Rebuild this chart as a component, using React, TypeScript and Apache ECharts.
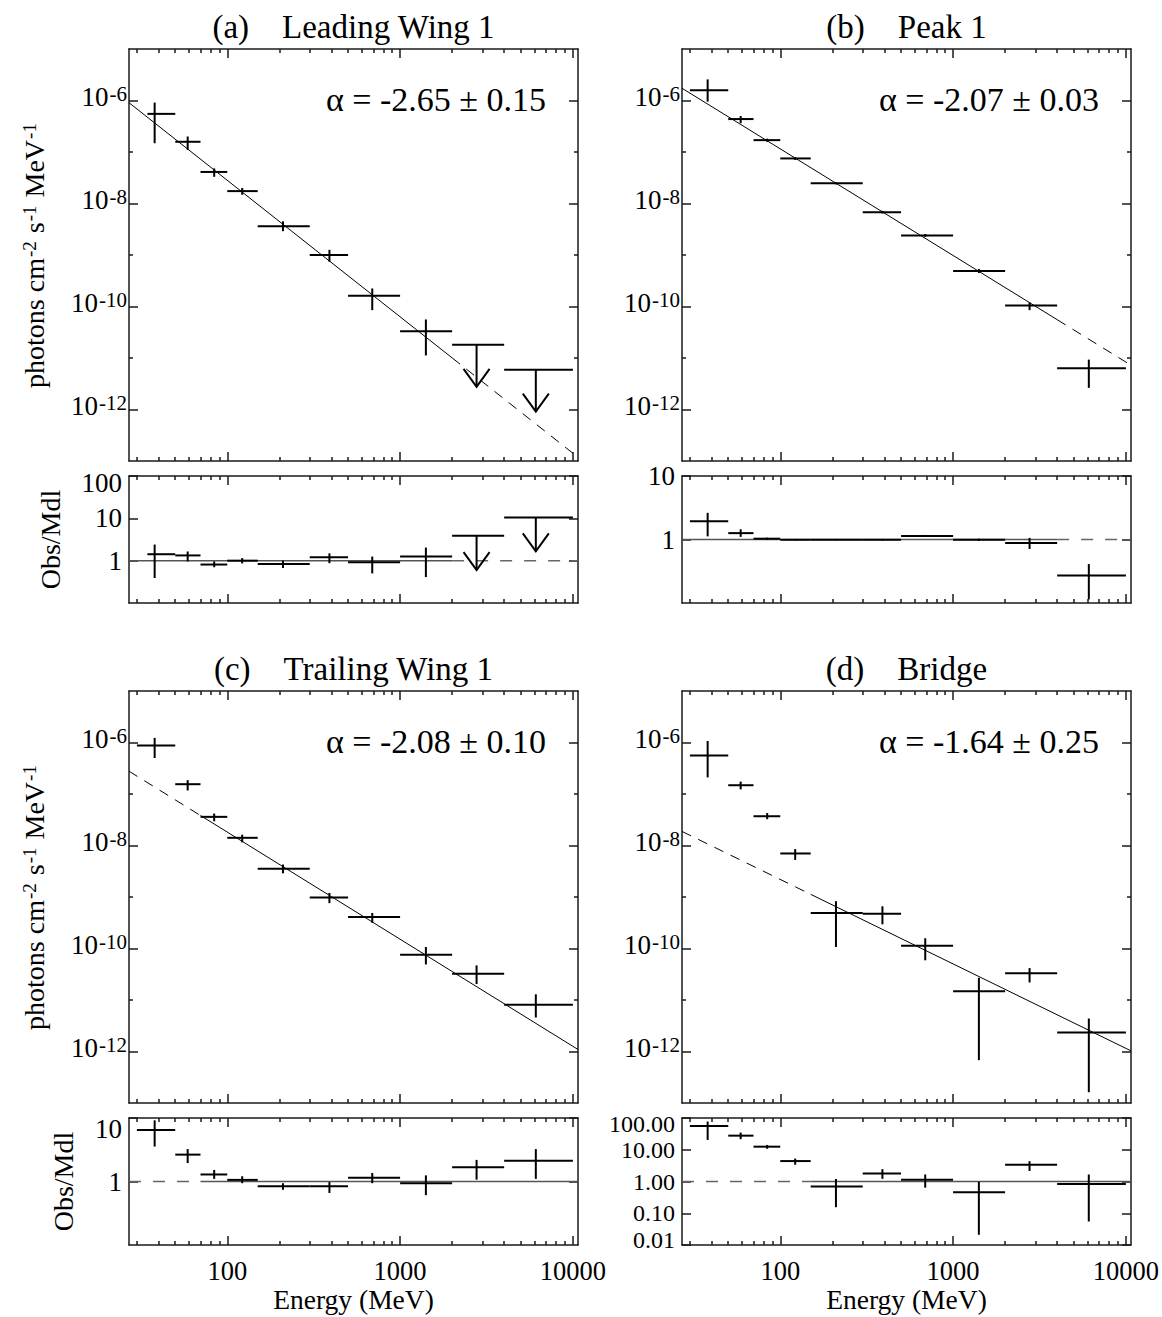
import React, { useEffect, useRef } from "react";
import * as echarts from "echarts";

const FONT = '"Liberation Serif", "Times New Roman", Times, serif';

// ---------- energy bins (MeV) ----------
const binLow = [30, 50, 70, 100, 150, 300, 500, 1000, 2000, 4000];
const binLowA = [34.5, 50, 70, 100, 150, 300, 500, 1000, 2000, 4000];
const binHigh = [50, 70, 100, 150, 300, 500, 1000, 2000, 4000, 10000];
const binCenter = [38, 59, 84, 122, 210, 390, 690, 1410, 2770, 6100];

// ---------- axis ranges and ticks ----------
const energyRange = [27, 10700];
const energyMajorTicks = [100, 1000, 10000];
const energyMinorTicks = [30, 40, 50, 60, 70, 80, 90, 200, 300, 400, 500, 600, 700, 800, 900, 2000, 3000, 4000, 5000, 6000, 7000, 8000, 9000];
const fluxRange = [1e-13, 1e-5];
const fluxMajorTicks = [1e-12, 1e-10, 1e-8, 1e-6];
const fluxMinorTicks = [1e-11, 1e-9, 1e-7];

// ---------- (a) Leading Wing 1 ----------
const fluxA = [5.5e-7, 1.58e-7, 4.1e-8, 1.74e-8, 3.6e-9, 1.0e-9, 1.62e-10, 3.3e-11, 1.8e-11, 5.9e-12];
const fluxLoA = [1.48e-7, 1.1e-7, 3.3e-8, 1.48e-8, 2.9e-9, 7.4e-10, 8.5e-11, 1.12e-11, 2.75e-12, 9.1e-13];
const fluxHiA = [9.1e-7, 2.0e-7, 4.8e-8, 2.0e-8, 4.5e-9, 1.26e-9, 2.24e-10, 5.6e-11, 1.8e-11, 5.9e-12];
const limitA = [0, 0, 0, 0, 0, 0, 0, 0, 1, 1];
const ratioA = [1.42, 1.33, 0.81, 1.0, 0.83, 1.2, 0.92, 1.25, 3.9, 10.4];
const ratioLoA = [0.39, 0.96, 0.7, 0.86, 0.67, 0.87, 0.5, 0.41, 0.6, 1.66];
const ratioHiA = [2.4, 1.65, 0.96, 1.15, 1.0, 1.49, 1.25, 2.04, 3.9, 10.4];
const modelNormA = 2.82e-8; // at 100 MeV
const modelIndexA = 2.65;

// ---------- (b) Peak 1 ----------
const fluxB = [1.58e-6, 4.36e-7, 1.7e-7, 7.5e-8, 2.47e-8, 6.8e-9, 2.4e-9, 4.9e-10, 1.05e-10, 6.3e-12];
const fluxLoB = [9.5e-7, 3.63e-7, 1.58e-7, 7.0e-8, 2.35e-8, 6.4e-9, 2.25e-9, 4.47e-10, 8.5e-11, 2.63e-12];
const fluxHiB = [2.57e-6, 5.0e-7, 1.82e-7, 8.0e-8, 2.6e-8, 7.2e-9, 2.55e-9, 5.37e-10, 1.2e-10, 9.3e-12];
const limitB = [0, 0, 0, 0, 0, 0, 0, 0, 0, 0];
const ratioB = [1.93, 1.26, 1.03, 0.99, 0.99, 0.99, 1.14, 0.99, 0.88, 0.27];
const ratioLoB = [1.12, 1.1, 0.99, 0.97, 0.97, 0.96, 1.1, 0.95, 0.71, 0.114];
const ratioHiB = [2.63, 1.45, 1.07, 1.01, 1.01, 1.02, 1.18, 1.03, 1.06, 0.41];
const modelNormB = 1.15e-7;
const modelIndexB = 2.07;

// ---------- (c) Trailing Wing 1 ----------
const fluxC = [8.7e-7, 1.55e-7, 3.6e-8, 1.41e-8, 3.55e-9, 9.8e-10, 4.07e-10, 7.6e-11, 3.24e-11, 8.1e-12];
const fluxLoC = [5.0e-7, 1.17e-7, 2.95e-8, 1.15e-8, 2.88e-9, 7.6e-10, 3.16e-10, 4.9e-11, 2.04e-11, 4.57e-12];
const fluxHiC = [1.23e-6, 1.86e-7, 4.17e-8, 1.62e-8, 4.27e-9, 1.2e-9, 4.9e-10, 1.07e-10, 4.7e-11, 1.29e-11];
const limitC = [0, 0, 0, 0, 0, 0, 0, 0, 0, 0];
const ratioC = [6.5, 2.65, 1.29, 1.06, 0.84, 0.84, 1.15, 0.94, 1.67, 2.12];
const ratioLoC = [3.55, 1.95, 1.1, 0.94, 0.74, 0.66, 0.94, 0.61, 1.07, 1.1];
const ratioHiC = [9.2, 3.24, 1.52, 1.21, 0.94, 0.98, 1.36, 1.25, 2.19, 3.24];
const modelNormC = 1.82e-8;
const modelIndexC = 2.08;

// ---------- (d) Bridge ----------
const fluxD = [5.6e-7, 1.48e-7, 3.7e-8, 7.0e-9, 4.9e-10, 4.75e-10, 1.13e-10, 1.48e-11, 3.3e-11, 2.35e-12];
const fluxLoD = [2.1e-7, 1.23e-7, 3.24e-8, 5.25e-9, 1.07e-10, 2.95e-10, 5.9e-11, 6.8e-13, 2.19e-11, 1.62e-13];
const fluxHiD = [1.07e-6, 1.74e-7, 4.27e-8, 8.5e-9, 8.3e-10, 6.6e-10, 1.58e-10, 2.7e-11, 4.17e-11, 4.37e-12];
const limitD = [0, 0, 0, 0, 0, 0, 0, 0, 0, 0];
const ratioD = [56, 27.8, 12.5, 4.4, 0.7, 1.78, 1.14, 0.46, 3.4, 0.83];
const ratioLoD = [20.4, 21.5, 10.7, 3.37, 0.155, 1.21, 0.64, 0.021, 2.15, 0.055];
const ratioHiD = [77.6, 34.7, 14.2, 5.27, 1.2, 2.45, 1.67, 0.98, 4.35, 1.66];
const modelNormD = 2.19e-9;
const modelIndexD = 1.64;

// ---------- layout ----------
const COL_LEFT = [129, 682];
const ROW_TOP = [49, 691];
const PLOT_W = 449;
const MAIN_H = 412;
const RES_GAP = 15;
const RES_H = 127;

const frameLine = { color: "#1a1a1a", width: 1.5 };
const tickLine = { color: "#1a1a1a", width: 1.5 };

const panels = [
  {
    tag: "(a)", name: "Leading Wing 1", alpha: "\u03b1 = -2.65 \u00b1 0.15",
    flux: fluxA, fluxLo: fluxLoA, fluxHi: fluxHiA, limit: limitA, lo: binLowA,
    ratio: ratioA, ratioLo: ratioLoA, ratioHi: ratioHiA,
    norm: modelNormA, index: modelIndexA, solid: [energyRange[0], 2000],
    rMin: 0.1, rMax: 100, rTicks: [1, 10, 100], dec: 0, resFont: 27,
    shiftTop: 100, shiftTopPx: 7, shiftBottom: null, shiftBottomPx: 0,
    resNameGap: 65, col: 0, row: 0,
  },
  {
    tag: "(b)", name: "Peak 1", alpha: "\u03b1 = -2.07 \u00b1 0.03",
    flux: fluxB, fluxLo: fluxLoB, fluxHi: fluxHiB, limit: limitB, lo: binLow,
    ratio: ratioB, ratioLo: ratioLoB, ratioHi: ratioHiB,
    norm: modelNormB, index: modelIndexB, solid: [energyRange[0], 4000],
    rMin: 0.1, rMax: 10, rTicks: [1, 10], dec: 0, resFont: 27,
    shiftTop: null, shiftTopPx: 0, shiftBottom: null, shiftBottomPx: 0,
    resNameGap: 52, col: 1, row: 0,
  },
  {
    tag: "(c)", name: "Trailing Wing 1", alpha: "\u03b1 = -2.08 \u00b1 0.10",
    flux: fluxC, fluxLo: fluxLoC, fluxHi: fluxHiC, limit: limitC, lo: binLow,
    ratio: ratioC, ratioLo: ratioLoC, ratioHi: ratioHiC,
    norm: modelNormC, index: modelIndexC, solid: [70, energyRange[1]],
    rMin: 0.1, rMax: 10, rTicks: [1, 10], dec: 0, resFont: 27,
    shiftTop: 10, shiftTopPx: 11, shiftBottom: null, shiftBottomPx: 0,
    resNameGap: 52, col: 0, row: 1,
  },
  {
    tag: "(d)", name: "Bridge", alpha: "\u03b1 = -1.64 \u00b1 0.25",
    flux: fluxD, fluxLo: fluxLoD, fluxHi: fluxHiD, limit: limitD, lo: binLow,
    ratio: ratioD, ratioLo: ratioLoD, ratioHi: ratioHiD,
    norm: modelNormD, index: modelIndexD, solid: [150, energyRange[1]],
    rMin: 0.01, rMax: 100, rTicks: [0.01, 0.1, 1, 10, 100], dec: 2, resFont: 24,
    shiftTop: 100, shiftTopPx: 6, shiftBottom: 0.01, shiftBottomPx: 4.5,
    resNameGap: 90, col: 1, row: 1,
  },
];

const near = (a: number, b: number | null) => b !== null && Math.abs(Math.log10(a) - Math.log10(b)) < 1e-3;
// keep edge ticks inside the axis extent (floating point)
const inside = (vals: number[], min: number, max: number) =>
  vals.map((v) => (v <= min * 1.00001 ? v * 1.0001 : v >= max / 1.00001 ? v / 1.0001 : v));

function buildXAxes(grid: number, showLabels: boolean) {
  const base: any = {
    gridIndex: grid, type: "log", logBase: 10, min: energyRange[0], max: energyRange[1],
    splitLine: { show: false }, minorTick: { show: false }, minorSplitLine: { show: false },
  };
  const major = { show: true, inside: true, length: 9, customValues: energyMajorTicks, lineStyle: tickLine };
  const minor = { show: true, inside: true, length: 4, customValues: energyMinorTicks, lineStyle: tickLine };
  return [
    {
      ...base, position: "bottom",
      axisLine: { show: true, onZero: false, lineStyle: frameLine },
      axisTick: major,
      axisLabel: {
        show: showLabels, customValues: energyMajorTicks, margin: 12,
        showMinLabel: true, showMaxLabel: true,
        fontFamily: FONT, fontSize: 26.5, color: "#000",
        formatter: (v: number) => String(Math.round(v)),
      },
      name: showLabels ? "Energy (MeV)" : "", nameLocation: "middle", nameGap: 40,
      nameTextStyle: { fontFamily: FONT, fontSize: 27.5, color: "#000" },
    },
    { ...base, position: "bottom", axisLine: { show: false, onZero: false }, axisTick: minor, axisLabel: { show: false } },
    { ...base, position: "top", axisLine: { show: true, onZero: false, lineStyle: frameLine }, axisTick: major, axisLabel: { show: false } },
    { ...base, position: "top", axisLine: { show: false, onZero: false }, axisTick: minor, axisLabel: { show: false } },
  ];
}

function buildYAxes(
  grid: number, min: number, max: number, majorTicks: number[], minorTicks: number[] | null,
  label: any, label2: any, name: any,
) {
  const base: any = {
    gridIndex: grid, type: "log", logBase: 10, min, max,
    splitLine: { show: false }, minorTick: { show: false }, minorSplitLine: { show: false },
  };
  const major = { show: true, inside: true, length: 9, customValues: inside(majorTicks, min, max), lineStyle: tickLine };
  const minor = { show: !!minorTicks, inside: true, length: 4, customValues: minorTicks || [], lineStyle: tickLine };
  return [
    {
      ...base, position: "left",
      axisLine: { show: true, onZero: false, lineStyle: frameLine },
      axisTick: major, axisLabel: label,
      ...name,
    },
    { ...base, position: "left", axisLine: { show: false, onZero: false }, axisTick: minor, axisLabel: label2 || { show: false } },
    { ...base, position: "right", axisLine: { show: true, onZero: false, lineStyle: frameLine }, axisTick: major, axisLabel: { show: false } },
    { ...base, position: "right", axisLine: { show: false, onZero: false }, axisTick: minor, axisLabel: { show: false } },
  ];
}

const errStyle = { stroke: "#000", lineWidth: 2, fill: null as any };

function crossRender(params: any, api: any) {
  const xc = api.value(0), y = api.value(1), xlo = api.value(2), xhi = api.value(3);
  const ylo = api.value(4), yhi = api.value(5), lim = api.value(6);
  const pc = api.coord([xc, y]);
  const pl = api.coord([xlo, y]);
  const pr = api.coord([xhi, y]);
  const children: any[] = [
    { type: "line", shape: { x1: pl[0], y1: pc[1], x2: pr[0], y2: pc[1] }, style: errStyle },
  ];
  if (lim) {
    const tip = api.coord([xc, ylo]);
    children.push({ type: "line", shape: { x1: pc[0], y1: pc[1], x2: pc[0], y2: tip[1] }, style: errStyle });
    children.push({
      type: "polyline",
      shape: { points: [[tip[0] - 13, tip[1] - 18], [tip[0], tip[1]], [tip[0] + 13, tip[1] - 18]] },
      style: errStyle,
    });
  } else {
    const plo = api.coord([xc, ylo]);
    const phi = api.coord([xc, yhi]);
    children.push({ type: "line", shape: { x1: pc[0], y1: plo[1], x2: pc[0], y2: phi[1] }, style: errStyle });
  }
  return { type: "group", children };
}

function buildOption() {
  const grid: any[] = [];
  const xAxis: any[] = [];
  const yAxis: any[] = [];
  const series: any[] = [];
  const graphic: any[] = [];

  panels.forEach((p, pi) => {
    const left = COL_LEFT[p.col];
    const top = ROW_TOP[p.row];
    const gMain = pi * 2;
    const gRes = pi * 2 + 1;
    grid.push({ left, top, width: PLOT_W, height: MAIN_H });
    grid.push({ left, top: top + MAIN_H + RES_GAP, width: PLOT_W, height: RES_H });

    const isLeft = p.col === 0;
    const isBottom = p.row === 1;

    xAxis.push(...buildXAxes(gMain, false));
    xAxis.push(...buildXAxes(gRes, isBottom));

    const mainLabel = {
      show: true, customValues: fluxMajorTicks, margin: 2, padding: [0, 0, 8, 0],
      showMinLabel: true, showMaxLabel: true,
      formatter: (v: number) => `{b|10}{s|${Math.round(Math.log10(v))}}`,
      rich: {
        b: { fontFamily: FONT, fontSize: 27, color: "#000", lineHeight: 27, verticalAlign: "bottom" },
        s: { fontFamily: FONT, fontSize: 21, color: "#000", lineHeight: 21, verticalAlign: "top", padding: [0, 0, 16, 1] },
      },
    };
    const mainName = isLeft
      ? {
          name: "{n|photons cm}{s|-2}{n|\u00a0s}{s|-1}{n|\u00a0MeV}{s|-1}",
          nameLocation: "middle", nameGap: 81, nameRotate: 90,
          nameTextStyle: {
            rich: {
              n: { fontFamily: FONT, fontSize: 28, color: "#000", lineHeight: 28, verticalAlign: "bottom" },
              s: { fontFamily: FONT, fontSize: 19, color: "#000", lineHeight: 19, verticalAlign: "top", padding: [0, 1, 14, 1] },
            },
          },
        }
      : {};
    yAxis.push(...buildYAxes(gMain, fluxRange[0], fluxRange[1], fluxMajorTicks, fluxMinorTicks, mainLabel, null, mainName));

    // residual tick labels: alternate decades go on two label layers so none get hidden
    const sh = p.shiftTopPx, sb = p.shiftBottomPx, fs = p.resFont;
    const resTickVals = inside(p.rTicks, p.rMin, p.rMax);
    const makeResLabel = (vals: number[]) => ({
      show: true, customValues: vals, margin: 7,
      showMinLabel: true, showMaxLabel: true, hideOverlap: false,
      formatter: (v: number) => {
        const s = Number(v.toPrecision(3)).toFixed(p.dec);
        if (near(v, p.shiftTop)) return `{dn|${s}}`;
        if (near(v, p.shiftBottom)) return `{up|${s}}`;
        return `{n|${s}}`;
      },
      rich: {
        n: { fontFamily: FONT, fontSize: fs, color: "#000" },
        dn: { fontFamily: FONT, fontSize: fs, color: "#000", padding: [sh * 2, 0, 0, 0] },
        up: { fontFamily: FONT, fontSize: fs, color: "#000", padding: [0, 0, sb * 2, 0] },
      },
    });
    const resLabel = makeResLabel(resTickVals.filter((_, i) => i % 2 === 0));
    const resLabel2 = makeResLabel(resTickVals.filter((_, i) => i % 2 === 1));
    const resName = isLeft
      ? {
          name: "Obs/Mdl", nameLocation: "middle", nameGap: p.resNameGap, nameRotate: 90,
          nameTextStyle: { fontFamily: FONT, fontSize: 28, color: "#000" },
        }
      : {};
    yAxis.push(...buildYAxes(gRes, p.rMin, p.rMax, p.rTicks, null, resLabel, resLabel2, resName));

    const xMain = gMain * 4, yMain = gMain * 4;
    const xRes = gRes * 4, yRes = gRes * 4;

    // model power law
    const model = (e: number) => p.norm * Math.pow(e / 100, -p.index);
    const [s0, s1] = p.solid;
    const dashedRange = s0 > energyRange[0] ? [energyRange[0], s0] : [s1, energyRange[1]];
    const lineBase = { type: "line", symbol: "none", silent: true, animation: false, z: 2 };
    series.push({
      ...lineBase, xAxisIndex: xMain, yAxisIndex: yMain,
      data: [[s0, model(s0)], [s1, model(s1)]],
      lineStyle: { color: "#000", width: 1, type: "solid" },
    });
    series.push({
      ...lineBase, xAxisIndex: xMain, yAxisIndex: yMain,
      data: [[dashedRange[0], model(dashedRange[0])], [dashedRange[1], model(dashedRange[1])]],
      lineStyle: { color: "#000", width: 1, type: [10, 8] },
    });
    series.push({
      ...lineBase, xAxisIndex: xRes, yAxisIndex: yRes,
      data: [[s0, 1], [s1, 1]],
      lineStyle: { color: "#555", width: 1.5, type: "solid" },
    });
    series.push({
      ...lineBase, xAxisIndex: xRes, yAxisIndex: yRes,
      data: [[dashedRange[0], 1], [dashedRange[1], 1]],
      lineStyle: { color: "#666", width: 1.5, type: [12, 12] },
    });

    // data points with error bars / upper limits
    const mainData = binCenter.map((e, i) => [e, p.flux[i], p.lo[i], binHigh[i], p.fluxLo[i], p.fluxHi[i], p.limit[i]]);
    const resData = binCenter.map((e, i) => [e, p.ratio[i], p.lo[i], binHigh[i], p.ratioLo[i], p.ratioHi[i], p.limit[i]]);
    series.push({
      type: "custom", xAxisIndex: xMain, yAxisIndex: yMain, renderItem: crossRender,
      data: mainData, encode: { x: 0, y: 1 }, silent: true, z: 3,
    });
    series.push({
      type: "custom", xAxisIndex: xRes, yAxisIndex: yRes, renderItem: crossRender,
      data: resData, encode: { x: 0, y: 1 }, silent: true, z: 3,
    });

    // panel title and slope annotation
    graphic.push({
      type: "text", x: left + PLOT_W / 2, y: top - 22, silent: true,
      style: {
        text: `${p.tag}\u00a0\u00a0\u00a0\u00a0${p.name}`, fontFamily: FONT, fontSize: 33, fill: "#000",
        align: "center", verticalAlign: "middle",
      },
    });
    graphic.push({
      type: "text", x: left + PLOT_W - 32, y: top + 50, silent: true,
      style: {
        text: p.alpha, fontFamily: FONT, fontSize: 34, fill: "#000",
        align: "right", verticalAlign: "middle",
      },
    });
  });

  return {
    animation: false,
    backgroundColor: "#fff",
    grid, xAxis, yAxis, series, graphic,
  };
}

export default function App() {
  const ref = useRef<HTMLDivElement>(null);
  useEffect(() => {
    if (!ref.current) return;
    const chart = echarts.init(ref.current, null, { renderer: "svg" });
    chart.setOption(buildOption() as any);
    return () => chart.dispose();
  }, []);
  return (
    <div
      ref={ref}
      style={{ position: "absolute", left: 0, top: 0, width: 1162, height: 1317, background: "#fff" }}
    />
  );
}
